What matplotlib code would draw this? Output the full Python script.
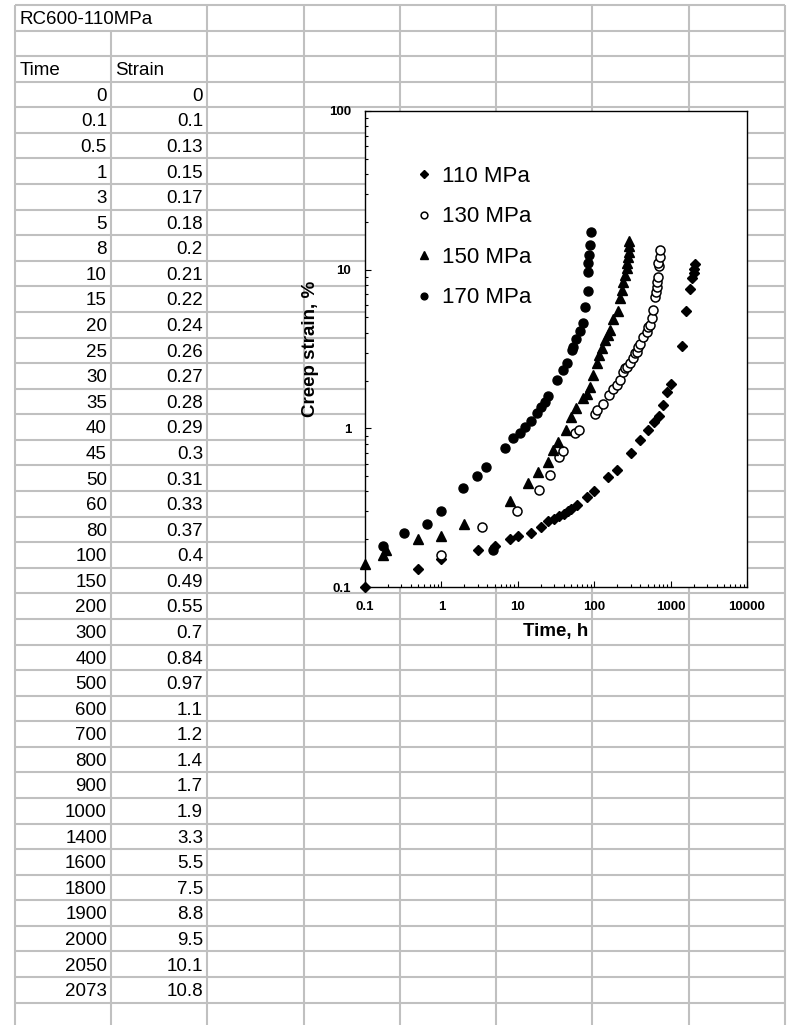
import numpy as np
import matplotlib
matplotlib.use('Agg')
import matplotlib.pyplot as plt

plt.rcParams['font.family'] = ['Liberation Sans', 'DejaVu Sans']

# tabla de la hoja (110 MPa)
time_110 = [0, 0.1, 0.5, 1, 3, 5, 8, 10, 15, 20, 25, 30, 35, 40, 45, 50, 60, 80, 100,
            150, 200, 300, 400, 500, 600, 700, 800, 900, 1000, 1400, 1600, 1800, 1900,
            2000, 2050, 2073]
strain_110 = [0, 0.1, 0.13, 0.15, 0.17, 0.18, 0.2, 0.21, 0.22, 0.24, 0.26, 0.27, 0.28,
              0.29, 0.3, 0.31, 0.33, 0.37, 0.4, 0.49, 0.55, 0.7, 0.84, 0.97, 1.1, 1.2,
              1.4, 1.7, 1.9, 3.3, 5.5, 7.5, 8.8, 9.5, 10.1, 10.8]

time_130 = [1.0, 3.4, 9.7, 19, 26, 35, 39, 56, 64, 102, 110, 129, 158, 175, 197, 218,
            240, 253, 266, 294, 325, 342, 360, 378, 398, 440, 486, 511, 537, 565, 594,
            626, 650, 660, 670, 690, 704, 690, 720, 726]
strain_130 = [0.16, 0.24, 0.30, 0.41, 0.51, 0.66, 0.72, 0.94, 0.98, 1.24, 1.30, 1.42,
              1.62, 1.76, 1.87, 2.01, 2.27, 2.39, 2.44, 2.57, 2.76, 2.97, 3.04, 3.27,
              3.4, 3.74, 4.06, 4.36, 4.48, 4.93, 5.56, 6.7, 7.2, 7.8, 8.4, 9.0, 10.5,
              11.0, 12.0, 13.3]

time_150 = [0.1, 0.17, 0.19, 0.5, 1.0, 2.0, 8.0, 13.7, 18.5, 24.6, 29, 34, 43, 49, 58,
            72, 80, 88, 97, 108, 117, 125, 138, 150, 161, 178, 207, 218, 229, 240, 255,
            265, 272, 278, 283, 287, 285]
strain_150 = [0.14, 0.16, 0.17, 0.20, 0.21, 0.25, 0.35, 0.45, 0.53, 0.61, 0.73, 0.82,
              0.97, 1.18, 1.34, 1.55, 1.65, 1.83, 2.17, 2.57, 2.9, 3.2, 3.6, 3.9, 4.15,
              4.9, 5.5, 6.6, 7.4, 8.4, 9.2, 10.2, 11.0, 12.0, 13.0, 14.0, 15.2]

time_170 = [0.17, 0.32, 0.64, 1.0, 1.9, 2.9, 3.8, 4.7, 6.8, 8.6, 10.7, 12.4, 14.8, 17.7,
            19.9, 22.7, 25.1, 32.9, 38.7, 43.7, 50.8, 53.2, 57.8, 65.2, 70.7, 75.8, 82,
            83, 84, 86, 88, 91]
strain_170 = [0.18, 0.22, 0.25, 0.30, 0.42, 0.50, 0.57, 0.17, 0.75, 0.87, 0.94, 1.02,
              1.12, 1.25, 1.36, 1.47, 1.60, 2.01, 2.33, 2.59, 3.11, 3.27, 3.64, 4.12,
              4.63, 5.84, 7.3, 9.7, 11.0, 12.4, 14.3, 17.3]

W, H = 788, 1025
fig = plt.figure(figsize=(W/100, H/100), dpi=100)

# ---- la hoja de calculo ----
bg = fig.add_axes([0, 0, 1, 1], zorder=0)
bg.set_xlim(0, W)
bg.set_ylim(H, 0)
bg.axis('off')

x0, cw = 15, 96.25
y0, rh = 5, 25.58
gcol = '#c0c0c0'
for k in range(41):
    y = y0 + rh*k
    bg.plot([x0, x0 + 8*cw], [y, y], color=gcol, lw=1.5, solid_capstyle='butt')
for j in range(9):
    x = x0 + cw*j
    ytop = y0 + rh if j == 1 else y0  # el titulo tapa la linea
    bg.plot([x, x], [ytop, H], color=gcol, lw=1.5, solid_capstyle='butt')

fs = 13.5
def base(r):
    return y0 + rh*(r+1) - 6.5
bg.text(20, base(0), 'RC600-110MPa', fontsize=fs, va='baseline', ha='left')
bg.text(20, base(2), 'Time', fontsize=fs, va='baseline', ha='left')
bg.text(115, base(2), 'Strain', fontsize=fs, va='baseline', ha='left')
for i in range(len(time_110)):
    bg.text(107, base(3+i), f'{time_110[i]:g}', fontsize=fs, va='baseline', ha='right')
    bg.text(203, base(3+i), f'{strain_110[i]:g}', fontsize=fs, va='baseline', ha='right')

# ---- el grafico ----
L, R, T, B = 365, 747, 111, 587
ax = fig.add_axes([L/W, 1-B/H, (R-L)/W, (B-T)/H], zorder=1)
ax.set_facecolor('white')
ax.set_xscale('log')
ax.set_yscale('log')
ax.set_xlim(0.1, 10000)
ax.set_ylim(0.1, 100)

kw = dict(linestyle='none', clip_on=False, zorder=3)
h1, = ax.plot(time_110[1:], strain_110[1:], marker='D', ms=5, color='black', label='110 MPa', **kw)
h2, = ax.plot(time_130, strain_130, marker='o', ms=6.5, mfc='white', mec='black', mew=1.1,
              label='130 MPa', **kw)
h3, = ax.plot(time_150, strain_150, marker='^', ms=7, color='black', label='150 MPa', **kw)
h4, = ax.plot(time_170, strain_170, marker='o', ms=6.5, color='black', label='170 MPa', **kw)

for s in ax.spines.values():
    s.set_linewidth(1.0)
    s.set_color('black')

ax.tick_params(which='both', direction='in', top=False, right=False, width=0.8)
ax.tick_params(which='major', length=4, labelsize=9.5, pad=10)
ax.tick_params(which='minor', length=2.5)
ax.set_xticks([0.1, 1, 10, 100, 1000, 10000])
ax.set_xticklabels(['0.1', '1', '10', '100', '1000', '10000'], fontweight='bold')
ax.set_yticks([0.1, 1, 10, 100])
ax.set_yticklabels(['0.1', '1', '10', '100'], fontweight='bold')
ax.set_xlabel('Time, h', fontsize=13.5, fontweight='bold', labelpad=7)
ax.set_ylabel('Creep strain, %', fontsize=13.5, fontweight='bold', labelpad=7)

leg = ax.legend(handles=[h1, h2, h3, h4], loc='upper left', bbox_to_anchor=(0.138, 0.885),
                frameon=False, fontsize=16, markerscale=0.75, handlelength=0.6,
                handletextpad=0.5, labelspacing=0.88, borderpad=0, borderaxespad=0)

fig.savefig('out.png', dpi=100)
